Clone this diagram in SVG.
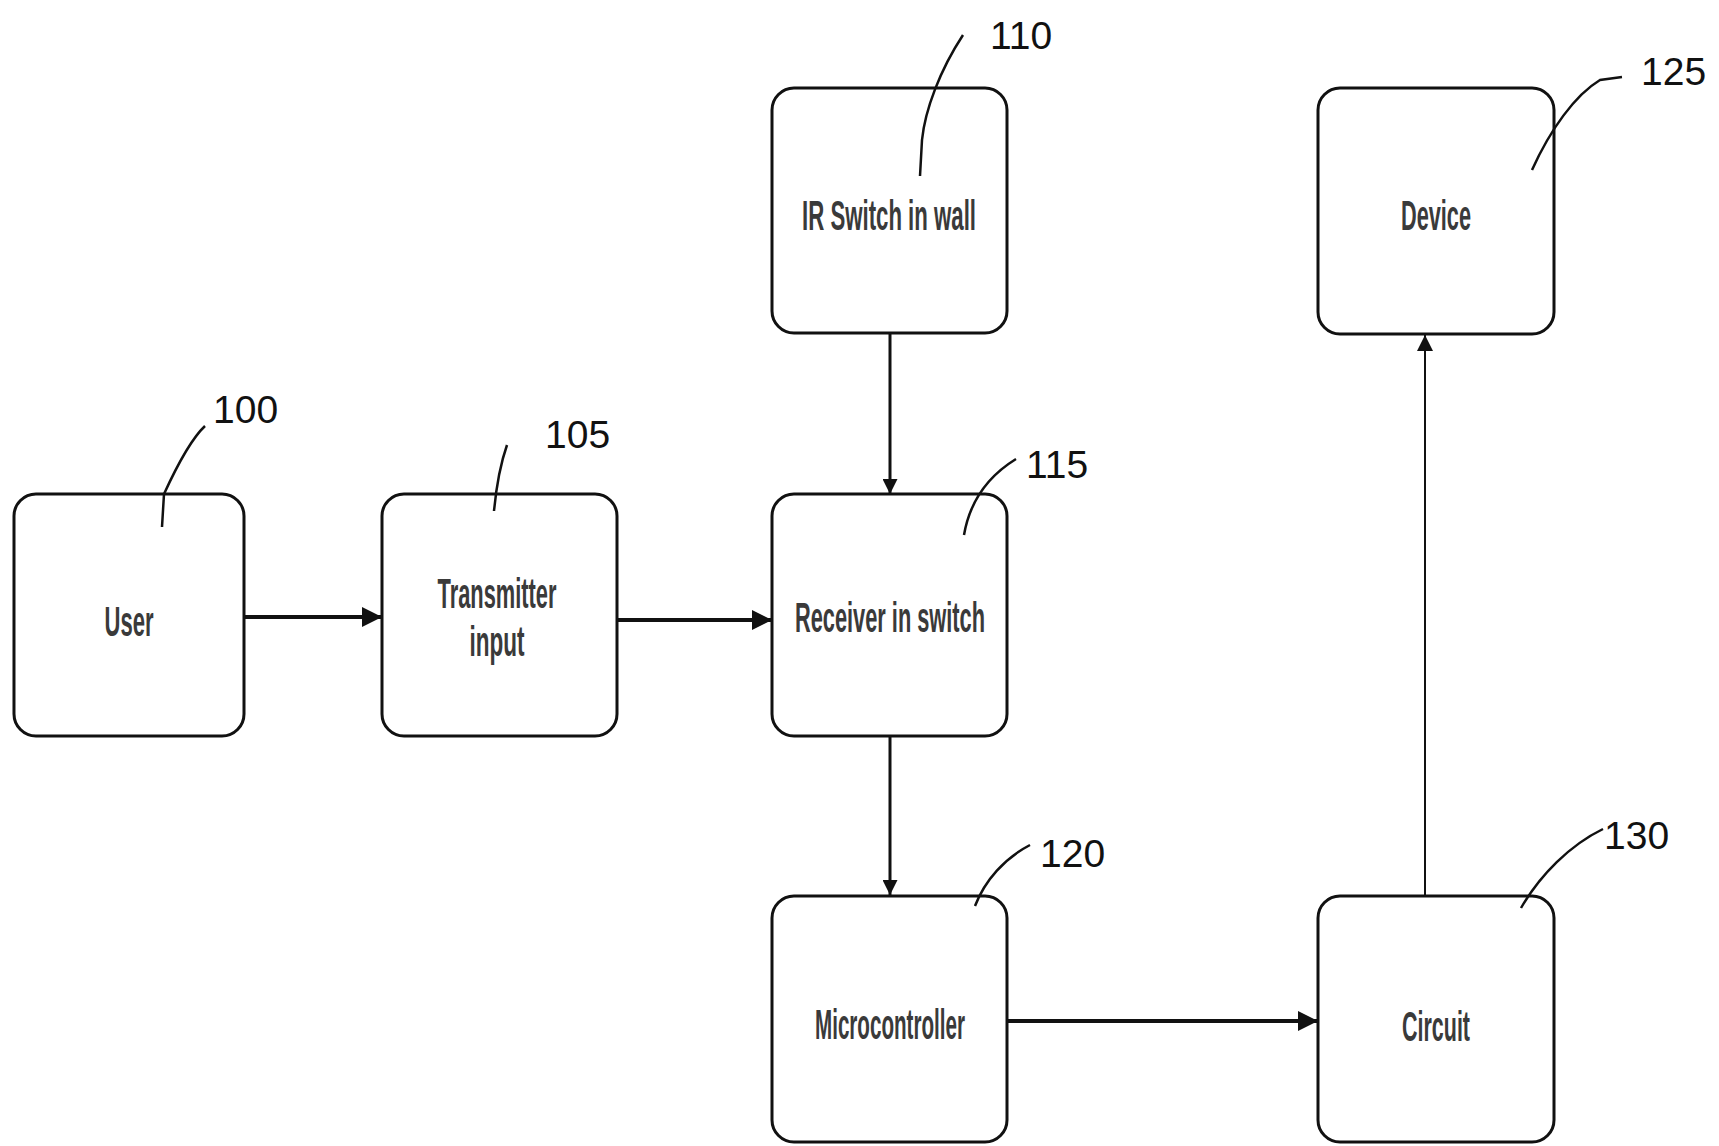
<svg xmlns="http://www.w3.org/2000/svg" width="1719" height="1146" viewBox="0 0 1719 1146">
<defs>
<style>
.box{fill:#fff;stroke:#111;stroke-width:3}
.lbl{font-family:"Liberation Sans",Arial,sans-serif;font-size:43px;font-weight:bold;fill:#3a3a3a;text-anchor:middle}
.num{font-family:"Liberation Sans",Arial,sans-serif;font-size:39px;fill:#111}
.lead{fill:none;stroke:#111;stroke-width:2.5}
.con{fill:none;stroke:#111}
</style>
<marker id="ah" viewBox="0 0 10 10" refX="10" refY="5" markerWidth="5" markerHeight="5" markerUnits="strokeWidth" orient="auto">
<path d="M0,0 L10,5 L0,10 z" fill="#111"/>
</marker>
<marker id="ahv" viewBox="0 0 10 10" refX="10" refY="5" markerWidth="7" markerHeight="5" markerUnits="strokeWidth" orient="auto">
<path d="M0,0 L10,5 L0,10 z" fill="#111"/>
</marker>
<marker id="ah2" viewBox="0 0 10 10" refX="10" refY="5" markerWidth="12" markerHeight="8" markerUnits="strokeWidth" orient="auto">
<path d="M0,0 L10,5 L0,10 z" fill="#111"/>
</marker>
</defs>
<rect width="1719" height="1146" fill="#fff"/>
<g id="connectors">
<line class="con" x1="244" y1="617" x2="382" y2="617" stroke-width="4" marker-end="url(#ah)"/>
<line class="con" x1="617" y1="620" x2="772" y2="620" stroke-width="4" marker-end="url(#ah)"/>
<line class="con" x1="890" y1="332" x2="890" y2="494" stroke-width="3" marker-end="url(#ahv)"/>
<line class="con" x1="890" y1="736" x2="890" y2="895" stroke-width="3" marker-end="url(#ahv)"/>
<line class="con" x1="1007" y1="1021" x2="1318" y2="1021" stroke-width="4" marker-end="url(#ah)"/>
<line class="con" x1="1425" y1="895" x2="1425" y2="335" stroke-width="2" marker-end="url(#ah2)"/>
</g>
<g id="n100">
<rect class="box" x="14" y="494" width="230" height="242" rx="22"/>
<text class="lbl" x="129" y="636" textLength="49" lengthAdjust="spacingAndGlyphs">User</text>
<path class="lead" d="M205,426 C190,440 175,470 164,494 L162,527"/>
<text class="num" x="213" y="423">100</text>
</g>
<g id="n105">
<rect class="box" x="382" y="494" width="235" height="242" rx="22"/>
<text class="lbl" x="497" y="608" textLength="119" lengthAdjust="spacingAndGlyphs">Transmitter</text>
<text class="lbl" x="497" y="656" textLength="55" lengthAdjust="spacingAndGlyphs">input</text>
<path class="lead" d="M507,445 C500,465 496,490 494,511"/>
<text class="num" x="545" y="448">105</text>
</g>
<g id="n110">
<rect class="box" x="772" y="88" width="235" height="245" rx="22"/>
<text class="lbl" x="889" y="230" textLength="174" lengthAdjust="spacingAndGlyphs">IR Switch in wall</text>
<path class="lead" d="M963,35 C940,70 925,110 922,140 L920,176"/>
<text class="num" x="990" y="49">110</text>
</g>
<g id="n115">
<rect class="box" x="772" y="494" width="235" height="242" rx="22"/>
<text class="lbl" x="890" y="632" textLength="190" lengthAdjust="spacingAndGlyphs">Receiver in switch</text>
<path class="lead" d="M1016,459 C990,475 970,500 964,535"/>
<text class="num" x="1026" y="478">115</text>
</g>
<g id="n120">
<rect class="box" x="772" y="896" width="235" height="246" rx="22"/>
<text class="lbl" x="890" y="1039" textLength="150" lengthAdjust="spacingAndGlyphs">Microcontroller</text>
<path class="lead" d="M1030,845 C1005,858 985,880 975,906"/>
<text class="num" x="1040" y="867">120</text>
</g>
<g id="n125">
<rect class="box" x="1318" y="88" width="236" height="246" rx="22"/>
<text class="lbl" x="1436" y="230" textLength="70" lengthAdjust="spacingAndGlyphs">Device</text>
<path class="lead" d="M1622,77 L1600,80 C1575,95 1550,130 1532,170"/>
<text class="num" x="1641" y="85">125</text>
</g>
<g id="n130">
<rect class="box" x="1318" y="896" width="236" height="246" rx="22"/>
<text class="lbl" x="1436" y="1041" textLength="68" lengthAdjust="spacingAndGlyphs">Circuit</text>
<path class="lead" d="M1603,829 C1570,845 1540,875 1521,908"/>
<text class="num" x="1604" y="849">130</text>
</g>
</svg>
